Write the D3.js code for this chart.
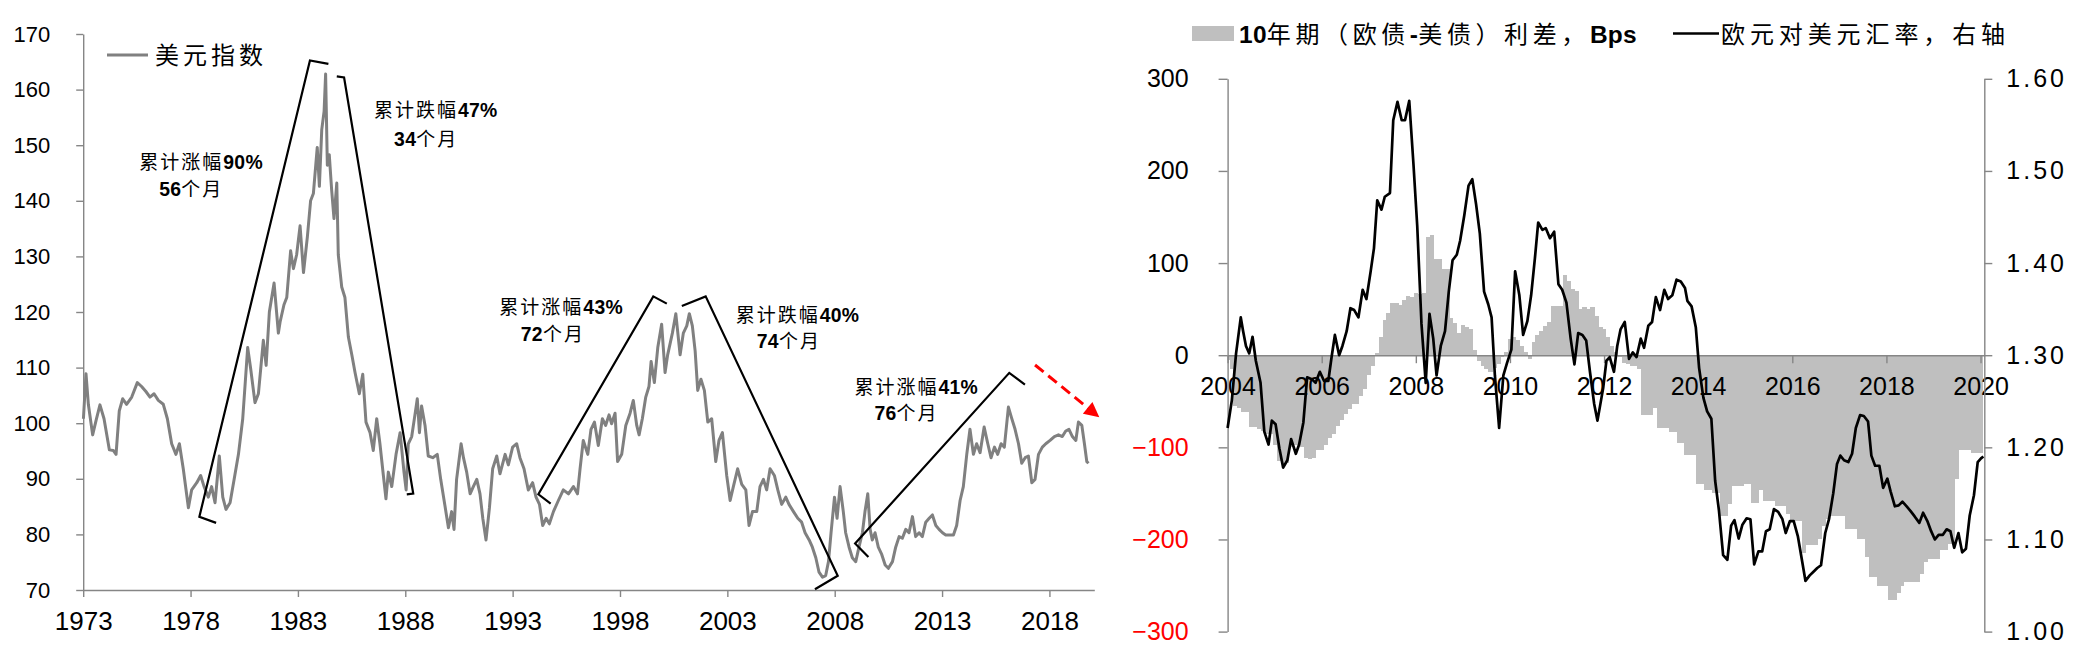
<!DOCTYPE html>
<html>
<head>
<meta charset="utf-8">
<script src="https://cdn.jsdelivr.net/npm/d3@7/dist/d3.min.js"></script>
<style>
  body { margin: 0; background: #fff; }
  svg { display: block; }
</style>
</head>
<body>
<div id="chart"></div>
<script>
// ---------------- data ----------------
// left: US dollar index (years as placed on the chart's own axis)
var dxyYears = [1973.01,1973.13,1973.24,1973.44,1973.60,1973.78,1973.97,1974.22,1974.40,1974.53,1974.68,1974.84,
  1975.02,1975.26,1975.52,1975.72,1975.92,1976.11,1976.30,1976.50,1976.73,1976.92,1977.12,1977.32,1977.48,1977.66,
  1977.90,1978.05,1978.29,1978.47,1978.63,1978.83,1978.98,1979.14,1979.34,1979.50,1979.65,1979.84,1980.03,1980.23,
  1980.43,1980.66,1980.80,1981.00,1981.16,1981.39,1981.52,1981.67,1981.89,1982.09,1982.17,1982.35,1982.48,1982.66,
  1982.79,1982.94,1983.10,1983.26,1983.44,1983.59,1983.72,1983.90,1984.00,1984.11,1984.22,1984.29,1984.37,1984.46,
  1984.57,1984.68,1984.81,1984.88,1985.04,1985.19,1985.35,1985.51,1985.66,1985.86,1986.02,1986.17,1986.36,1986.51,
  1986.67,1986.82,1986.98,1987.10,1987.21,1987.37,1987.57,1987.76,1987.94,1988.04,1988.14,1988.30,1988.45,1988.56,
  1988.66,1988.76,1988.92,1989.07,1989.28,1989.49,1989.65,1989.85,1990.01,1990.16,1990.27,1990.39,1990.60,1990.71,
  1990.86,1991.02,1991.17,1991.33,1991.48,1991.61,1991.76,1991.92,1992.07,1992.26,1992.41,1992.65,1992.80,1993.00,
  1993.19,1993.34,1993.53,1993.73,1993.93,1994.09,1994.25,1994.40,1994.56,1994.71,1994.90,1995.13,1995.36,1995.60,
  1995.83,1996.02,1996.14,1996.29,1996.50,1996.65,1996.81,1996.99,1997.18,1997.33,1997.49,1997.61,1997.77,1997.89,
  1998.08,1998.27,1998.47,1998.62,1998.78,1998.89,1999.04,1999.20,1999.35,1999.45,1999.60,1999.76,1999.94,2000.10,
  2000.22,2000.44,2000.60,2000.80,2000.95,2001.11,2001.23,2001.37,2001.50,2001.62,2001.77,2001.93,2002.09,2002.27,
  2002.46,2002.61,2002.77,2002.97,2003.13,2003.28,2003.48,2003.67,2003.86,2004.01,2004.17,2004.37,2004.52,2004.68,
  2004.83,2004.99,2005.19,2005.35,2005.53,2005.72,2005.87,2006.08,2006.28,2006.46,2006.62,2006.81,2006.96,2007.12,
  2007.27,2007.43,2007.58,2007.71,2007.83,2007.99,2008.11,2008.25,2008.40,2008.51,2008.67,2008.82,2008.98,2009.13,
  2009.29,2009.41,2009.54,2009.65,2009.75,2009.88,2010.03,2010.19,2010.35,2010.50,2010.69,2010.84,2011.00,2011.15,
  2011.31,2011.46,2011.62,2011.77,2011.93,2012.08,2012.24,2012.40,2012.55,2012.71,2012.86,2013.02,2013.17,2013.37,
  2013.53,2013.68,2013.84,2013.99,2014.15,2014.30,2014.46,2014.61,2014.77,2014.96,2015.13,2015.28,2015.44,2015.59,
  2015.75,2015.90,2016.09,2016.24,2016.40,2016.56,2016.71,2016.87,2017.02,2017.18,2017.33,2017.49,2017.67,2017.83,
  2018.03,2018.23,2018.42,2018.60,2018.76,2018.91,2019.07,2019.23,2019.35,2019.51,2019.63,2019.74,2019.82];
var dxyValues = [100.8,108.9,103.4,97.9,100.5,103.3,100.8,95.2,95.1,94.4,102.2,104.4,
  103.4,104.7,107.3,106.6,105.7,104.7,105.3,104.1,103.4,100.8,96.3,94.4,96.3,91.8,
  84.8,88.0,89.3,90.6,88.6,86.7,88.6,85.7,94.1,86.7,84.5,85.7,89.9,94.4,
  100.8,113.6,109.8,103.7,105.3,114.9,110.4,120.0,125.2,116.2,118.2,121.3,122.6,131.0,
  127.8,130.3,135.5,127.1,133.5,140.0,141.3,149.6,142.6,152.8,156.1,162.8,146.4,148.3,
  142.0,136.8,143.2,130.3,124.5,122.6,115.5,112.3,109.1,105.3,108.8,100.2,98.3,95.1,
  100.8,96.3,90.6,86.4,91.2,88.6,94.4,98.3,91.2,88.0,96.3,97.6,101.5,104.4,
  98.3,103.1,99.6,94.1,93.8,94.4,89.9,85.1,81.2,84.1,80.9,89.9,96.3,93.8,
  91.2,87.3,88.6,89.9,87.3,82.9,79.0,84.8,91.8,94.1,90.9,94.4,92.5,95.7,
  96.3,93.8,91.8,88.0,89.3,86.7,85.4,81.6,82.9,81.9,84.1,86.1,88.0,87.3,
  88.6,87.3,91.8,96.9,94.4,98.9,100.2,96.0,100.8,99.6,101.5,99.9,101.8,93.1,
  94.4,99.6,101.8,104.1,99.6,97.9,100.8,104.7,106.6,111.1,107.3,113.6,117.8,109.1,
  112.3,116.2,119.7,112.3,116.2,117.5,119.7,117.5,113.0,105.9,107.9,105.9,100.2,100.8,
  93.1,96.9,98.3,90.6,86.1,88.6,91.8,89.0,88.0,81.6,84.1,84.1,88.6,89.9,
  88.0,91.8,90.6,88.0,85.4,86.7,85.4,84.1,82.9,82.2,80.3,79.0,77.7,75.8,
  73.2,72.3,72.6,75.1,80.3,86.7,82.9,88.6,84.1,80.3,77.7,75.8,75.1,77.7,
  80.3,84.1,87.3,80.9,79.0,80.3,77.7,76.4,74.5,73.9,75.1,77.7,79.6,79.3,
  80.9,80.3,83.2,79.6,80.3,79.6,82.2,82.9,83.5,81.6,80.9,80.3,79.9,79.9,
  79.9,81.6,86.1,88.6,94.4,98.9,94.4,96.3,94.7,99.3,96.3,93.8,95.7,94.4,
  96.3,95.7,102.9,100.9,98.9,96.3,92.8,93.8,94.1,89.3,89.9,94.4,95.7,96.3,
  96.9,97.6,97.9,97.6,98.6,98.9,97.6,96.9,100.2,99.6,96.3,93.1,92.8];
var dxyTicks = [1973, 1978, 1983, 1988, 1993, 1998, 2003, 2008, 2013, 2018];
var dxyYTicks = [70, 80, 90, 100, 110, 120, 130, 140, 150, 160, 170];

// annotation text (year, index level, text) and bracket outlines in data units
var notes = [
  [1975.61, 145.7, "累计涨幅90%"], [1976.54, 140.9, "56个月"],
  [1986.54, 155.1, "累计跌幅47%"], [1987.48, 149.9, "34个月"],
  [1992.38, 119.6, "累计涨幅43%"], [1993.38, 114.8, "72个月"],
  [2003.39, 118.2, "累计跌幅40%"], [2004.37, 113.5, "74个月"],
  [2008.92, 105.3, "累计涨幅41%"], [2009.85, 100.6, "76个月"]
];
var brackets = [
  [[1979.19, 82.07], [1978.41, 83.17], [1983.56, 165.25], [1984.42, 164.62]],
  [[1984.81, 162.37], [1985.15, 162.18], [1988.37, 87.34], [1988.07, 87.21]],
  [[1994.77, 85.54], [1994.20, 87.21], [1999.55, 122.81], [2000.18, 121.51]],
  [[2000.88, 121.06], [2001.99, 122.81], [2008.14, 72.57], [2007.08, 70.13]],
  [[2009.57, 75.92], [2008.95, 78.35], [2016.13, 109.05], [2016.86, 106.94]]
];
var trendArrow = [[2017.33, 110.47], [2020.36, 100.95]];

// right: monthly 10y spread (EU - US), Bps, from Jan 2004
var spreadStart = 2004;
var spread = [-5,-15,-55,-57,-62,-62,-78,-78,-80,-82,-85,-86,
  -97,-115,-118,-117,-100,-98,-98,-100,-112,-113,-112,-103,
  -103,-98,-90,-85,-77,-70,-64,-58,-53,-53,-44,-37,
  -22,-12,2,20,38,46,57,57,55,60,64,63,
  68,66,68,128,130,104,104,94,94,40,35,24,
  33,31,28,6,-6,-12,-15,-18,-14,-10,-2,4,
  18,20,16,10,4,-4,14,22,26,32,36,53,
  53,53,87,80,72,70,50,52,50,52,43,31,
  28,20,10,4,-2,-8,-10,-12,-12,-15,-65,-65,
  -65,-57,-79,-79,-79,-83,-83,-95,-95,-108,-108,-108,
  -140,-140,-146,-146,-150,-150,-174,-174,-162,-142,-142,-142,
  -140,-140,-160,-160,-146,-158,-158,-158,-164,-164,-164,-172,
  -180,-180,-180,-215,-206,-206,-206,-200,-185,-178,-175,-175,
  -175,-175,-189,-189,-189,-199,-199,-219,-241,-241,-250,-250,
  -250,-266,-266,-258,-250,-246,-246,-246,-246,-237,-224,-221,
  -221,-221,-211,-211,-205,-205,-134,-103,-103,-103,-106,-106,
  -106];

// right: EUR/USD, right axis
var eurYears = [2004.00,2004.09,2004.18,2004.28,2004.33,2004.39,2004.46,2004.53,2004.60,2004.70,2004.78,2004.87,
  2004.94,2005.02,2005.10,2005.18,2005.27,2005.35,2005.45,2005.52,2005.61,2005.69,2005.79,2005.87,2005.96,2006.05,
  2006.14,2006.21,2006.28,2006.37,2006.44,2006.53,2006.61,2006.69,2006.78,2006.87,2006.95,2007.04,2007.11,2007.18,
  2007.27,2007.34,2007.45,2007.52,2007.61,2007.70,2007.77,2007.86,2007.95,2008.03,2008.12,2008.21,2008.29,2008.37,
  2008.44,2008.53,2008.62,2008.70,2008.78,2008.87,2008.94,2009.03,2009.12,2009.20,2009.28,2009.36,2009.45,2009.54,
  2009.61,2009.68,2009.77,2009.86,2009.94,2010.03,2010.11,2010.20,2010.28,2010.37,2010.45,2010.53,2010.60,2010.69,
  2010.76,2010.85,2010.94,2011.03,2011.11,2011.20,2011.29,2011.37,2011.45,2011.54,2011.62,2011.70,2011.79,2011.86,
  2011.98,2012.05,2012.12,2012.21,2012.28,2012.35,2012.44,2012.53,2012.61,2012.69,2012.78,2012.85,2012.94,2013.02,
  2013.10,2013.19,2013.28,2013.36,2013.45,2013.54,2013.63,2013.72,2013.77,2013.86,2013.95,2014.02,2014.11,2014.19,
  2014.28,2014.36,2014.44,2014.53,2014.62,2014.70,2014.77,2014.86,2014.94,2015.03,2015.11,2015.19,2015.28,2015.36,
  2015.44,2015.52,2015.61,2015.70,2015.79,2015.86,2015.95,2016.03,2016.12,2016.20,2016.28,2016.37,2016.45,2016.53,
  2016.61,2016.70,2016.78,2016.87,2016.95,2017.02,2017.10,2017.19,2017.27,2017.35,2017.44,2017.52,2017.61,2017.68,
  2017.76,2017.85,2017.93,2018.02,2018.09,2018.18,2018.26,2018.34,2018.43,2018.51,2018.60,2018.70,2018.78,2018.87,
  2018.95,2019.03,2019.11,2019.20,2019.28,2019.36,2019.44,2019.53,2019.61,2019.69,2019.77,2019.86,2019.94,2020.01,
  2020.06];
var eurRate = [1.221,1.251,1.302,1.341,1.326,1.310,1.302,1.320,1.294,1.270,1.217,1.203,
  1.229,1.225,1.199,1.178,1.186,1.209,1.193,1.203,1.227,1.276,1.274,1.270,1.282,1.272,
  1.272,1.298,1.322,1.300,1.310,1.326,1.351,1.349,1.341,1.371,1.361,1.391,1.416,1.468,
  1.458,1.472,1.476,1.555,1.575,1.555,1.555,1.576,1.507,1.440,1.334,1.270,1.345,1.318,
  1.278,1.310,1.326,1.369,1.403,1.409,1.424,1.452,1.484,1.491,1.464,1.432,1.369,1.355,
  1.341,1.278,1.221,1.278,1.292,1.306,1.391,1.365,1.322,1.337,1.365,1.405,1.444,1.436,
  1.438,1.427,1.434,1.377,1.371,1.357,1.318,1.290,1.324,1.322,1.316,1.282,1.247,1.229,
  1.264,1.294,1.298,1.282,1.310,1.328,1.336,1.296,1.303,1.298,1.318,1.308,1.332,1.336,
  1.363,1.349,1.371,1.361,1.365,1.382,1.380,1.373,1.359,1.353,1.330,1.286,1.254,1.239,
  1.231,1.164,1.132,1.083,1.078,1.115,1.121,1.101,1.116,1.123,1.122,1.073,1.087,1.087,
  1.109,1.111,1.133,1.130,1.122,1.107,1.120,1.120,1.103,1.079,1.055,1.061,1.065,1.069,
  1.072,1.107,1.122,1.150,1.182,1.191,1.186,1.184,1.193,1.221,1.235,1.234,1.228,1.191,
  1.180,1.180,1.156,1.166,1.152,1.136,1.137,1.141,1.136,1.131,1.125,1.118,1.129,1.120,
  1.109,1.100,1.105,1.105,1.111,1.109,1.091,1.107,1.086,1.090,1.126,1.148,1.184,1.188,
  1.190];
var rightXTicks = [2004, 2006, 2008, 2010, 2012, 2014, 2016, 2018, 2020];
var spreadTicks = [-300, -200, -100, 0, 100, 200, 300];
var rateTicks = [1.0, 1.1, 1.2, 1.3, 1.4, 1.5, 1.6];

// ---------------- drawing ----------------
var NUM = '"Liberation Sans", Arial, sans-serif';
var CJK = '"Noto Sans CJK SC", "Noto Sans CJK JP", sans-serif';
var axisGrey = "#868686";

var svg = d3.select("#chart").append("svg")
    .attr("width", 2079)
    .attr("height", 657)
    .style("background", "#fff");

// write a label mixing CJK (thin, spaced) and latin/digit runs (bold, tight)
function richText(g, str, size, spacing) {
    var parts = str.split(/([\u3000-\u303f\u4e00-\u9fff\uff00-\uffef]+)/).filter(function(s) { return s.length; });
    parts.forEach(function(p) {
        var isCjk = /[\u3000-\u303f\u4e00-\u9fff\uff00-\uffef]/.test(p);
        g.append("tspan")
            .text(p)
            .style("font-family", isCjk ? CJK : NUM)
            .style("font-weight", isCjk ? 400 : 700)
            .style("font-size", (isCjk ? size : size * 1.02) + "px")
            .style("letter-spacing", (isCjk ? spacing : 0.3) + "px");
    });
    return g;
}

function styleAxis(g, size) {
    g.select(".domain").attr("stroke", axisGrey).attr("stroke-width", 1.4);
    g.selectAll(".tick line").attr("stroke", axisGrey).attr("stroke-width", 1.4);
    g.selectAll(".tick text")
        .attr("fill", "#000")
        .style("font-family", NUM)
        .style("font-size", size + "px");
}

// ===== left chart =====
var x1 = d3.scaleLinear().domain([1973, 2020.09]).range([83.2, 1094.3]);
var y1 = d3.scaleLinear().domain([70, 170]).range([590, 34]);

var left = svg.append("g");

left.append("g")
    .attr("transform", "translate(" + x1(1973) + ",0)")
    .call(d3.axisLeft(y1).tickValues(dxyYTicks).tickSize(7).tickPadding(26).tickSizeOuter(0))
    .call(styleAxis, 22);

left.append("g")
    .attr("transform", "translate(0," + y1(70) + ")")
    .call(d3.axisBottom(x1).tickValues(dxyTicks).tickFormat(d3.format("d")).tickSize(7).tickPadding(15).tickSizeOuter(0))
    .call(styleAxis, 26);

var dxy = dxyYears.map(function(t, i) { return [t, dxyValues[i]]; });

left.append("path")
    .datum(dxy)
    .attr("fill", "none")
    .attr("stroke", "#808080")
    .attr("stroke-width", 3)
    .attr("stroke-linejoin", "round")
    .attr("d", d3.line().x(function(d) { return x1(d[0]); }).y(function(d) { return y1(d[1]); }));

left.selectAll(".bracket")
    .data(brackets)
    .enter()
    .append("path")
    .attr("class", "bracket")
    .attr("fill", "none")
    .attr("stroke", "#000")
    .attr("stroke-width", 2.2)
    .attr("d", d3.line().x(function(d) { return x1(d[0]); }).y(function(d) { return y1(d[1]); }));

notes.forEach(function(n) {
    var t = left.append("text")
        .attr("x", x1(n[0]))
        .attr("y", y1(n[1]))
        .attr("fill", "#000");
    richText(t, n[2], 19, 2);
});

// red dashed trend arrow
svg.append("defs").append("marker")
    .attr("id", "redHead")
    .attr("markerUnits", "userSpaceOnUse")
    .attr("viewBox", "0 0 10 10")
    .attr("refX", 2)
    .attr("refY", 5)
    .attr("markerWidth", 17)
    .attr("markerHeight", 15)
    .attr("orient", "auto")
    .append("path")
    .attr("d", "M0,0 L10,5 L0,10 Z")
    .attr("fill", "#ff0000");

var a0 = trendArrow[0], a1 = trendArrow[1];
var ax0 = x1(a0[0]), ay0 = y1(a0[1]), ax1 = x1(a1[0]), ay1 = y1(a1[1]);
var alen = Math.hypot(ax1 - ax0, ay1 - ay0);
var shorten = 13;
left.append("line")
    .attr("x1", ax0).attr("y1", ay0)
    .attr("x2", ax1 - (ax1 - ax0) / alen * shorten)
    .attr("y2", ay1 - (ay1 - ay0) / alen * shorten)
    .attr("stroke", "#ff0000")
    .attr("stroke-width", 3)
    .attr("stroke-dasharray", "11,6")
    .attr("marker-end", "url(#redHead)");

// legend
left.append("line")
    .attr("x1", 107).attr("x2", 148)
    .attr("y1", 55).attr("y2", 55)
    .attr("stroke", "#808080")
    .attr("stroke-width", 3);
left.append("text")
    .attr("x", 155).attr("y", 64)
    .attr("fill", "#000")
    .style("font-family", CJK)
    .style("font-size", "24px")
    .style("letter-spacing", "4px")
    .text("美元指数");

// ===== right chart =====
var x2 = d3.scaleLinear().domain([2004, 2020.08]).range([1227.6, 1984.3]);
var yL = d3.scaleLinear().domain([-300, 300]).range([631.6, 78.8]);
var yR = d3.scaleLinear().domain([1.0, 1.6]).range([631.6, 78.8]);

var right = svg.append("g");

svg.select("defs").append("clipPath")
    .attr("id", "plotClip")
    .append("rect")
    .attr("x", x2.range()[0]).attr("y", 60)
    .attr("width", x2.range()[1] - x2.range()[0])
    .attr("height", 590);

var monthW = x2(spreadStart + 1 / 12) - x2(spreadStart);

right.append("g")
    .attr("clip-path", "url(#plotClip)")
    .selectAll("rect")
    .data(spread)
    .enter()
    .append("rect")
    .attr("x", function(d, i) { return x2(spreadStart + i / 12) - monthW / 2; })
    .attr("width", monthW + 0.4)
    .attr("y", function(d) { return yL(Math.max(0, d)); })
    .attr("height", function(d) { return Math.abs(yL(d) - yL(0)); })
    .attr("fill", "#bfbfbf")
    .attr("shape-rendering", "crispEdges");

// x axis on the zero line
right.append("g")
    .attr("transform", "translate(0," + yL(0) + ")")
    .call(d3.axisBottom(x2).tickValues(rightXTicks).tickFormat(d3.format("d")).tickSize(8).tickPadding(14).tickSizeOuter(0))
    .call(styleAxis, 25);

var leftAx = right.append("g")
    .attr("transform", "translate(" + x2.range()[0] + ",0)")
    .call(d3.axisLeft(yL).tickValues(spreadTicks).tickSize(9).tickPadding(30).tickSizeOuter(0))
    .call(styleAxis, 25);
leftAx.selectAll(".tick text").attr("fill", function(d) { return d < 0 ? "#ff0000" : "#000"; });

right.append("g")
    .attr("transform", "translate(" + x2.range()[1] + ",0)")
    .call(d3.axisRight(yR).tickValues(rateTicks).tickFormat(d3.format(".2f")).tickSize(8).tickPadding(14).tickSizeOuter(0))
    .call(styleAxis, 25)
    .selectAll(".tick text").style("letter-spacing", "3px");

var eur = eurYears.map(function(t, i) { return [t, eurRate[i]]; });
right.append("path")
    .datum(eur)
    .attr("fill", "none")
    .attr("stroke", "#000")
    .attr("stroke-width", 2.7)
    .attr("stroke-linejoin", "round")
    .attr("d", d3.line().x(function(d) { return x2(d[0]); }).y(function(d) { return yR(d[1]); }));

// legend
right.append("rect")
    .attr("x", 1192).attr("y", 26)
    .attr("width", 42).attr("height", 15)
    .attr("fill", "#bfbfbf");
richText(right.append("text").attr("x", 1239).attr("y", 43).attr("fill", "#000"),
    "10年期（欧债-美债）利差，Bps", 24, 4.6);

right.append("line")
    .attr("x1", 1673).attr("x2", 1719)
    .attr("y1", 33.5).attr("y2", 33.5)
    .attr("stroke", "#000")
    .attr("stroke-width", 2.7);
right.append("text")
    .attr("x", 1721).attr("y", 43)
    .attr("fill", "#000")
    .style("font-family", CJK)
    .style("font-size", "24px")
    .style("letter-spacing", "4.9px")
    .text("欧元对美元汇率，右轴");
</script>
</body>
</html>
